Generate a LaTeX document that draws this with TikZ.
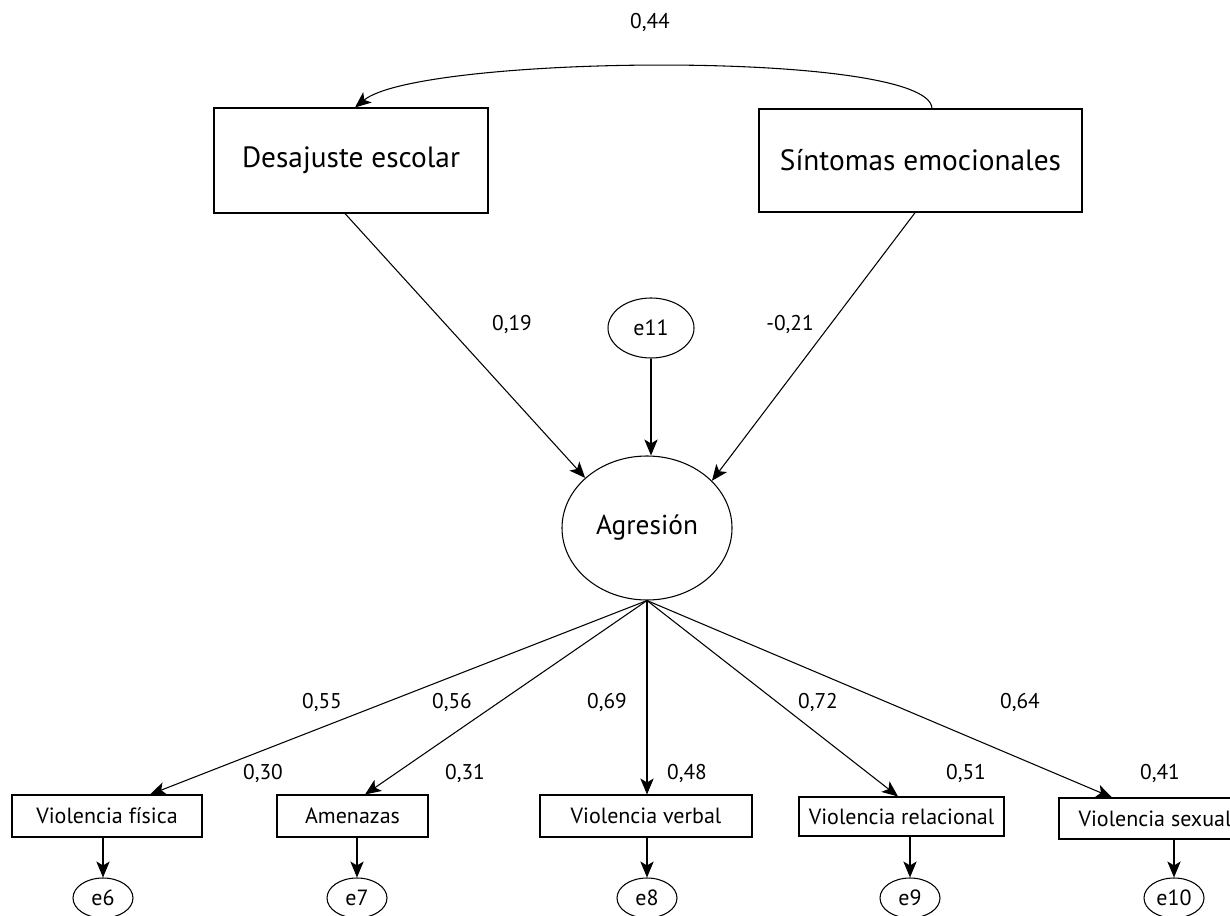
\documentclass[tikz,border=0pt]{standalone}
\usepackage{fontspec}
\setmainfont{PT Sans}
\usetikzlibrary{arrows.meta,shapes.geometric}
\begin{document}
\begin{tikzpicture}[x=0.75pt,y=-0.75pt,
  box/.style={draw,line width=0.8pt,inner sep=0pt,font=\fontsize{22}{24}\selectfont},
  obs/.style={draw,line width=0.8pt,inner sep=0pt,font=\fontsize{16.5}{18}\selectfont},
  err/.style={draw,ellipse,line width=0.8pt,inner sep=0pt,minimum width=45pt,minimum height=30pt,font=\fontsize{16.5}{18}\selectfont},
  lbl/.style={font=\fontsize{16}{18}\selectfont,inner sep=0pt},
  arr/.style={line width=0.8pt,-{Stealth[length=12pt,width=10pt,inset=3pt]}}]
\clip (0,0) rectangle (1230,916);
\fill[white] (0,0) rectangle (1230,916);
% exogenous
\node[box,minimum width=205.5pt,minimum height=78.75pt] (des) at (351,160.5) {Desajuste escolar};
\node[box,minimum width=242.25pt,minimum height=77.25pt] (sin) at (920.5,160.5) {Síntomas emocionales};
% latent
\node[draw,ellipse,line width=0.8pt,inner sep=0pt,minimum width=64.5pt,minimum height=45pt,font=\fontsize{16.5}{18}\selectfont] (e11) at (651,328) {e11};
\node[draw,ellipse,line width=0.8pt,inner sep=0pt,minimum width=127.5pt,minimum height=108pt,font=\fontsize{20.5}{22}\selectfont] (agr) at (647,528) {Agresión};
% observed
\node[obs,minimum width=142.5pt,minimum height=31.5pt] (fis) at (107,816) {Violencia física};
\node[obs,minimum width=113.25pt,minimum height=31.5pt] (ame) at (352.5,816) {Amenazas};
\node[obs,minimum width=159pt,minimum height=31.5pt] (ver) at (646,816) {Violencia verbal};
\node[obs,minimum width=153.75pt,minimum height=29.25pt] (rel) at (901.5,816.5) {Violencia relacional};
\node[obs,minimum width=144pt,minimum height=30.75pt] (sex) at (1155,818.5) {Violencia sexual};
% errors
\node[err] (e6) at (103,898) {e6};
\node[err] (e7) at (357,898) {e7};
\node[err] (e8) at (647,898) {e8};
\node[err] (e9) at (910,898) {e9};
\node[err] (e10) at (1174,898) {e10};
% covariance
\draw[arr] ([xshift=8.6pt]sin.north) .. controls +(-2,-59) and +(65,-53) .. ([xshift=3pt]des.north);
% structural paths
\draw[arr] ([xshift=-4.5pt]des.south) -- (agr.141);
\draw[arr] ([xshift=-4pt]sin.south) -- (agr.36);
\draw[arr] (e11.south) -- (e11.south |- agr.north);
% loadings
\draw[arr] (agr.south) -- ([xshift=32.25pt]fis.north);
\draw[arr] (agr.south) -- ([xshift=9.4pt]ame.north);
\draw[arr] (agr.south) -- (agr.south |- ver.north);
\draw[arr] (agr.south) -- ([xshift=-2.6pt]rel.north);
\draw[arr] (agr.south) -- ([xshift=-32.25pt]sex.north);
% residuals
\draw[arr] (fis.south -| e6) -- (e6.north);
\draw[arr] (ame.south -| e7) -- (e7.north);
\draw[arr] (ver.south -| e8) -- (e8.north);
\draw[arr] (rel.south -| e9) -- (e9.north);
\draw[arr] (sex.south -| e10) -- (e10.north);
% labels
\node[lbl] (l44) at (650,22) {0,44};
\node[lbl] (l19) at (512,324) {0,19};
\node[lbl] (l21) at (790,324) {-0,21};
\node[lbl] (l55) at (322,702) {0,55};
\node[lbl] (l56) at (452,702) {0,56};
\node[lbl] (l69) at (607,702) {0,69};
\node[lbl] (l72) at (818,702) {0,72};
\node[lbl] (l64) at (1020,702) {0,64};
\node[lbl] (l30) at (263,773) {0,30};
\node[lbl] (l31) at (465,773) {0,31};
\node[lbl] (l48) at (687,773) {0,48};
\node[lbl] (l51) at (966,773) {0,51};
\node[lbl] (l41) at (1160,773) {0,41};
\end{tikzpicture}
\end{document}
